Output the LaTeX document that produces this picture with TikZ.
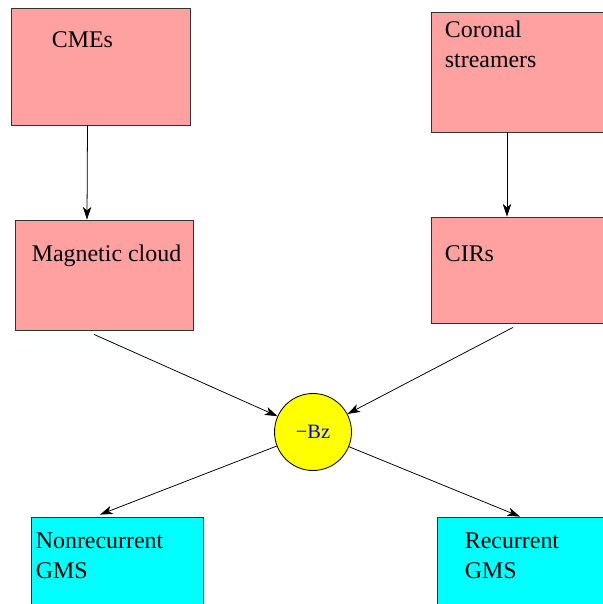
\documentclass[tikz,border=0pt]{standalone}
\usepackage{fontspec}
\setmainfont{Liberation Serif}
\usepackage{xcolor}
\usetikzlibrary{arrows.meta}

\newcommand{\pxu}{0.025cm}
\definecolor{boxpink}{HTML}{FFA1A1}
\definecolor{gmscyan}{HTML}{00FFFF}
\definecolor{bzyellow}{HTML}{FFFF00}

\begin{document}
\begin{tikzpicture}[x=0.025cm,y=-0.025cm,
    box/.style={draw=black!80,line width=0.6pt,rectangle,inner sep=0pt},
    source/.style={box,fill=boxpink},
    storm/.style={box,fill=gmscyan},
    txt/.style={anchor=north west,inner sep=0pt,align=left,font=\fontsize{17}{21}\selectfont},
    conn/.style={-{Stealth[length=9pt,width=6pt,inset=2.5pt]},line width=0.55pt}]
        \useasboundingbox (0,0) rectangle (603,604);

        % sources
        \node[source,minimum width=179*\pxu,minimum height=117*\pxu,
              label={[txt,xshift=41*\pxu,yshift=-24*\pxu]north west:CMEs}]              (cmes) at (100.5,66.5) {};
        \node[source,minimum width=175*\pxu,minimum height=120*\pxu,
              label={[txt,xshift=14*\pxu,yshift=-9.5*\pxu]north west:Coronal\\streamers}] (cor)  at (518.5,72)   {};
        \node[source,minimum width=178*\pxu,minimum height=110*\pxu,
              label={[txt,xshift=17*\pxu,yshift=-25*\pxu]north west:Magnetic cloud}]    (mc)   at (104,275)    {};
        \node[source,minimum width=175*\pxu,minimum height=106*\pxu,
              label={[txt,xshift=14*\pxu,yshift=-29*\pxu]north west:CIRs}]              (cirs) at (518.5,270)  {};

        % storms
        \node[storm,minimum width=172*\pxu,minimum height=93*\pxu,
              label={[txt,xshift=5*\pxu,yshift=-16*\pxu]north west:Nonrecurrent\\GMS}]  (nr)   at (117,563.5)  {};
        \node[storm,minimum width=173*\pxu,minimum height=93*\pxu,
              label={[txt,xshift=28*\pxu,yshift=-16*\pxu]north west:Recurrent\\GMS}]    (rec)  at (523.5,563.5) {};

        \node[circle,draw,line width=0.6pt,fill=bzyellow,minimum size=77*\pxu,inner sep=0pt,
              text=blue,font=\fontsize{14.5}{16}\selectfont]                             (bz)   at (313,432)    {−Bz};

        \draw[conn] ([xshift=-13*\pxu]cmes.south)              -- ([xshift=-17*\pxu]mc.north);
        \draw[conn] ([xshift=-11.5*\pxu]cor.south)             -- ([xshift=-11.5*\pxu]cirs.north);
        \draw[conn] ([xshift=-10*\pxu,yshift=-4*\pxu]mc.south)  -- (bz);
        \draw[conn] ([xshift=-5.5*\pxu,yshift=-4*\pxu]cirs.south) -- (bz);
        \draw[conn] (bz) -- ([xshift=-17*\pxu,yshift=2*\pxu]nr.north);
        \draw[conn] (bz) -- ([xshift=-3.5*\pxu]rec.north);
\end{tikzpicture}
\end{document}
